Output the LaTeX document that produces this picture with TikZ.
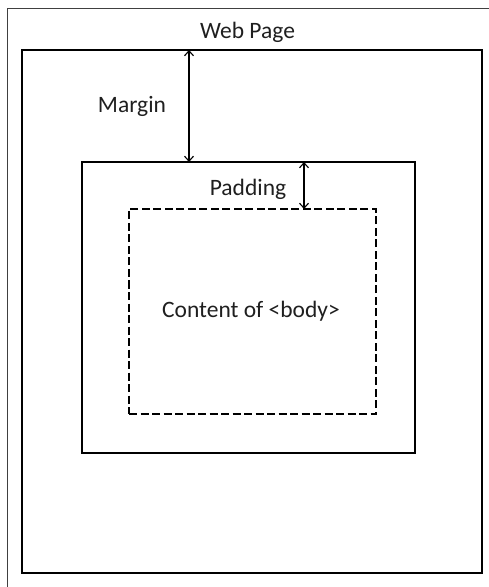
\documentclass[tikz,border=0pt]{standalone}
\usepackage{fontspec}
\setmainfont{Carlito}
\usetikzlibrary{arrows.meta}
\begin{document}
\begin{tikzpicture}[x=1bp,y=-1bp,
  box/.style={draw=black,line width=2.3bp,minimum width=#1,inner sep=0pt,outer sep=0pt},
  lbl/.style={inner sep=0pt,font=\fontsize{23.5bp}{28bp}\selectfont,text=black!88},
  dim/.style={line width=1.1bp,{Straight Barb[length=5bp,width=9bp]}-{Straight Barb[length=5bp,width=9bp]}},
  frameline/.style={draw=black!75,line width=1bp}]
\useasboundingbox (0,0) rectangle (489,587);
% page frame
\coordinate (fb) at (7,590);
\coordinate (fc) at (7,9);
\coordinate (fr) at (492,9);
\draw[frameline] (fb) -- (fc) -- (fr);
% boxes
\node[box=460bp,minimum height=523bp] (outer) at (252,311.5) {};
\node[box=333bp,minimum height=291bp] (middle) at (248.5,307.5) {};
\node[box=247bp,minimum height=205bp,dash pattern=on 8bp off 3.5bp] (content) at (252.5,311.5) {};
% labels
\node[lbl] (web) at (247.5,32) {Web Page};
\node[lbl] (margin) at (132,106) {Margin};
\node[lbl] (padding) at (248,189) {Padding};
\node[lbl] (body) at (251,311) {Content of <body>};
% dimension arrows
\coordinate (mx) at (189,0);
\coordinate (px) at (304,0);
\draw[dim] (outer.north -| mx) -- (middle.north -| mx);
\draw[dim] (middle.north -| px) -- (content.north -| px);
\end{tikzpicture}
\end{document}
